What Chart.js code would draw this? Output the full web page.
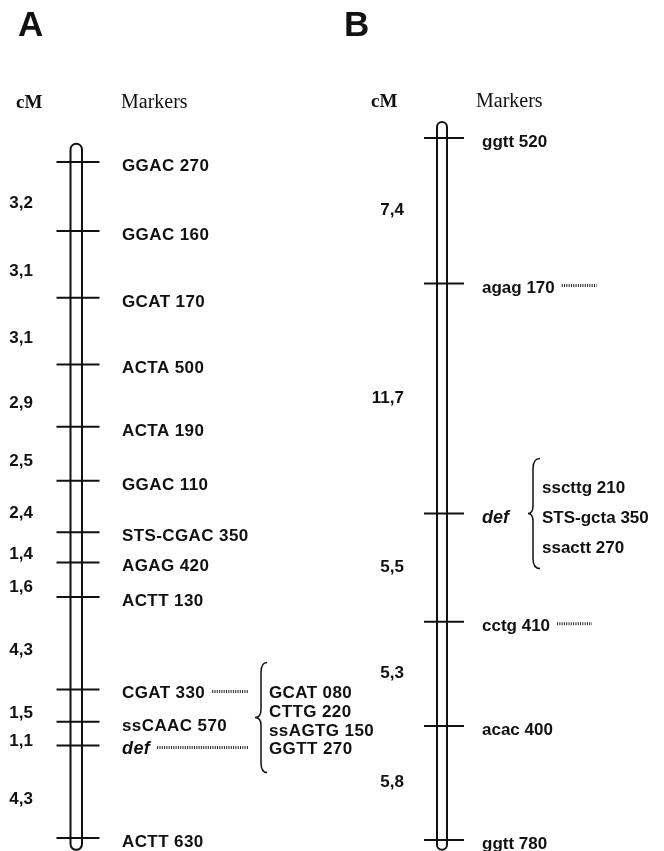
<!DOCTYPE html>
<html>
<head>
<meta charset="utf-8">
<script src="https://cdn.jsdelivr.net/npm/chart.js@4/dist/chart.umd.min.js"></script>
<style>
  html, body { margin: 0; padding: 0; background: #fff; }
  #wrap { position: relative; width: 664px; height: 851px; }
</style>
</head>
<body>
<div id="wrap"><canvas id="linkageMap"></canvas></div>
<script>
// Panel A: markers from top to bottom, cM distance between neighbours
const markersA = ["GGAC 270", "GGAC 160", "GCAT 170", "ACTA 500", "ACTA 190", "GGAC 110",
  "STS-CGAC 350", "AGAG 420", "ACTT 130", "CGAT 330", "ssCAAC 570", "def", "ACTT 630"];
const intervalsA = [3.2, 3.1, 3.1, 2.9, 2.5, 2.4, 1.4, 1.6, 4.3, 1.5, 1.1, 4.3];
const leadersA = ["CGAT 330", "def"];
const groupA = ["GCAT 080", "CTTG 220", "ssAGTG 150", "GGTT 270"];

// Panel B
const markersB = ["ggtt 520", "agag 170", "def", "cctg 410", "acac 400", "ggtt 780"];
const intervalsB = [7.4, 11.7, 5.5, 5.3, 5.8];
const leadersB = ["agag 170", "cctg 410"];
const groupB = ["sscttg 210", "STS-gcta 350", "ssactt 270"];

const cumulative = (steps) =>
  steps.reduce((acc, d) => { acc.push(Math.round((acc[acc.length - 1] + d) * 10) / 10); return acc; }, [0]);
const posA = cumulative(intervalsA);
const posB = cumulative(intervalsB);
const fmt = (v) => v.toFixed(1).replace(".", ",");

const SANS = "'Liberation Sans', Arial, sans-serif";
const SERIF = "'Liberation Serif', 'Times New Roman', serif";

// layout of the two panels (pixel-ish x units, cM for chromosome ends)
const panels = [
  {
    axis: "yA", markers: markersA, pos: posA, intervals: intervalsA, leaders: leadersA,
    group: groupA, groupFrom: "CGAT 330", groupTo: "def", spacing: "0.4px",
    letter: "A", letterX: 18, cmHeadX: 16, markHeadX: 121, headY: 108,
    chrom: [70.5, 82], top: -0.85, bottom: 31.95, tickX: 78, tickR: 21.5,
    cmRight: 33, cmOffset: 12, labelX: 122, leaderEnd: 248, leaderLen: null,
    brace: { tip: 255, line: 261, end: 267, half: 55, textX: 269 },
  },
  {
    axis: "yB", markers: markersB, pos: posB, intervals: intervalsB, leaders: leadersB,
    group: groupB, groupFrom: "def", groupTo: "def", spacing: "0px",
    letter: "B", letterX: 344, cmHeadX: 371, markHeadX: 476, headY: 107,
    chrom: [437, 447], top: -0.81, bottom: 36.2, tickX: 444, tickR: 20,
    cmRight: 404, cmOffset: 4, labelX: 482, leaderEnd: null, leaderLen: 35,
    brace: { tip: 528, line: 533, end: 540, half: 55, textX: 542, spacing: 30 },
  },
];

const drawMap = {
  id: "drawMap",
  beforeDatasetsDraw(chart) {
    const ctx = chart.ctx;
    const xs = chart.scales.x;
    ctx.save();
    ctx.strokeStyle = "#111";
    ctx.lineWidth = 2;
    panels.forEach((p) => {
      const ys = chart.scales[p.axis];
      const l = xs.getPixelForValue(p.chrom[0]);
      const r = xs.getPixelForValue(p.chrom[1]);
      const rad = (r - l) / 2;
      const t = ys.getPixelForValue(p.top);
      const b = ys.getPixelForValue(p.bottom);
      ctx.beginPath();
      ctx.moveTo(l, b - rad);
      ctx.lineTo(l, t + rad);
      ctx.arc(l + rad, t + rad, rad, Math.PI, 0);
      ctx.lineTo(r, b - rad);
      ctx.arc(l + rad, b - rad, rad, 0, Math.PI);
      ctx.stroke();
    });
    ctx.restore();
  },
  afterDatasetsDraw(chart) {
    const ctx = chart.ctx;
    const xs = chart.scales.x;
    ctx.save();
    ctx.fillStyle = "#111";
    ctx.strokeStyle = "#111";
    panels.forEach((p) => {
      const ys = chart.scales[p.axis];
      ctx.letterSpacing = "0px";
      // panel letter and headers
      ctx.textAlign = "left";
      ctx.textBaseline = "alphabetic";
      ctx.font = `bold 35px ${SANS}`;
      ctx.fillText(p.letter, xs.getPixelForValue(p.letterX), 36);
      ctx.font = `bold 19px ${SERIF}`;
      ctx.fillText("cM", xs.getPixelForValue(p.cmHeadX), p.headY);
      ctx.font = `20px ${SERIF}`;
      ctx.fillText("Markers", xs.getPixelForValue(p.markHeadX), p.headY);

      // cM distances between neighbouring markers
      ctx.textAlign = "right";
      ctx.font = `bold 17px ${SANS}`;
      p.intervals.forEach((d, i) => {
        const mid = (ys.getPixelForValue(p.pos[i]) + ys.getPixelForValue(p.pos[i + 1])) / 2;
        ctx.fillText(fmt(d), xs.getPixelForValue(p.cmRight), mid + p.cmOffset);
      });

      // marker names and dotted leaders
      ctx.textAlign = "left";
      ctx.letterSpacing = p.spacing;
      const ends = {};
      p.markers.forEach((m, i) => {
        const y = ys.getPixelForValue(p.pos[i]);
        ctx.font = m === "def" ? `italic bold 18px ${SANS}` : `bold 17px ${SANS}`;
        const x = xs.getPixelForValue(p.labelX);
        ctx.fillText(m, x, y + 9);
        ends[m] = x + ctx.measureText(m).width;
      });
      ctx.save();
      ctx.lineWidth = 3;
      ctx.setLineDash([1, 1.3]);
      ctx.strokeStyle = "#222";
      p.leaders.forEach((m) => {
        const y = ys.getPixelForValue(p.pos[p.markers.indexOf(m)]) + 2;
        const x0 = ends[m] + 7;
        const x1 = p.leaderEnd !== null ? xs.getPixelForValue(p.leaderEnd) : x0 + p.leaderLen;
        ctx.beginPath();
        ctx.moveTo(x0, y);
        ctx.lineTo(x1, y);
        ctx.stroke();
      });
      ctx.restore();

      // co-segregating markers with a brace
      const y0 = ys.getPixelForValue(p.pos[p.markers.indexOf(p.groupFrom)]);
      const y1 = ys.getPixelForValue(p.pos[p.markers.indexOf(p.groupTo)]);
      const mid = (y0 + y1) / 2;
      const br = p.brace;
      const step = br.spacing || (y1 - y0) / (p.group.length - 1);
      const first = mid - step * (p.group.length - 1) / 2;
      ctx.font = `bold 17px ${SANS}`;
      p.group.forEach((g, i) => {
        ctx.fillText(g, xs.getPixelForValue(br.textX), first + i * step + 9);
      });
      const tip = xs.getPixelForValue(br.tip);
      const ln = xs.getPixelForValue(br.line);
      const en = xs.getPixelForValue(br.end);
      const top = mid - br.half;
      const bot = mid + br.half;
      ctx.lineWidth = 1.5;
      ctx.beginPath();
      ctx.moveTo(en, top);
      ctx.quadraticCurveTo(ln, top, ln, top + 10);
      ctx.lineTo(ln, mid - 8);
      ctx.quadraticCurveTo(ln, mid, tip, mid);
      ctx.quadraticCurveTo(ln, mid, ln, mid + 8);
      ctx.lineTo(ln, bot - 10);
      ctx.quadraticCurveTo(ln, bot, en, bot);
      ctx.stroke();
    });
    ctx.restore();
  },
};

new Chart(document.getElementById("linkageMap"), {
  type: "scatter",
  data: {
    datasets: [
      {
        label: "A",
        yAxisID: "yA",
        data: posA.map((v) => ({ x: panels[0].tickX, y: v })),
        pointStyle: "line",
        radius: panels[0].tickR,
        borderWidth: 2,
        borderColor: "#111",
      },
      {
        label: "B",
        yAxisID: "yB",
        data: posB.map((v) => ({ x: panels[1].tickX, y: v })),
        pointStyle: "line",
        radius: panels[1].tickR,
        borderWidth: 2,
        borderColor: "#111",
      },
    ],
  },
  options: {
    responsive: true,
    maintainAspectRatio: false,
    animation: false,
    events: [],
    layout: { padding: 0, autoPadding: false },
    plugins: {
      legend: { display: false },
      tooltip: { enabled: false },
    },
    scales: {
      x: { type: "linear", display: false, min: 0, max: 664 },
      yA: { type: "linear", display: false, reverse: true, min: -7.525, max: 32.003 },
      yB: { type: "linear", display: false, reverse: true, min: -7.018, max: 36.259 },
    },
  },
  plugins: [drawMap],
});
</script>
</body>
</html>
